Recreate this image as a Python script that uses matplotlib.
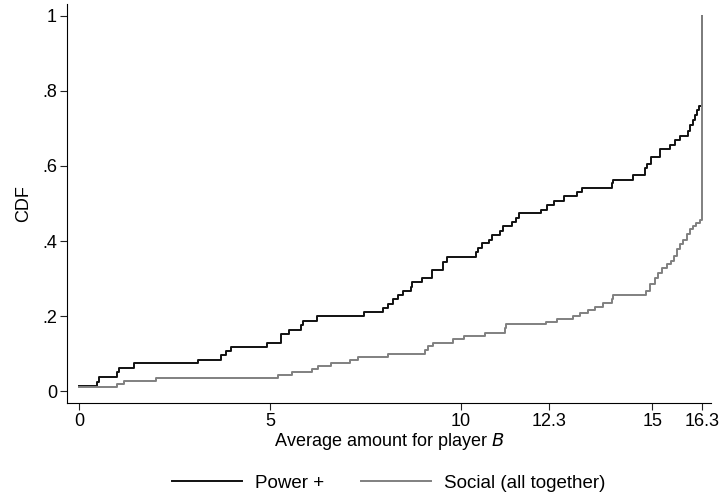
import matplotlib
matplotlib.use("Agg")
import matplotlib.pyplot as plt

plt.rcParams['font.family'] = ['Liberation Sans', 'DejaVu Sans']

# empirical CDF steps: amount where the CDF jumps, and the CDF value after the jump
power_x = [0.0, 0.48, 0.52, 1.00, 1.05, 1.44, 3.11, 3.72, 3.85, 3.98, 4.93, 5.28,
           5.50, 5.80, 5.85, 6.24, 7.46, 7.96, 8.09, 8.22, 8.34, 8.47, 8.69, 8.72,
           8.97, 9.23, 9.52, 9.63, 10.40, 10.45, 10.55, 10.74, 10.82, 11.02, 11.10,
           11.34, 11.43, 11.51, 12.09, 12.24, 12.44, 12.70, 13.04, 13.17, 13.94,
           13.98, 14.50, 14.81, 14.87, 14.98, 15.20, 15.46, 15.59, 15.72, 15.94,
           15.99, 16.06, 16.12, 16.18, 16.23, 16.3]
power_cdf = [0.014, 0.025, 0.038, 0.050, 0.061, 0.074, 0.084, 0.096, 0.107, 0.118,
             0.129, 0.152, 0.163, 0.175, 0.187, 0.199, 0.211, 0.221, 0.231, 0.245,
             0.255, 0.267, 0.278, 0.292, 0.302, 0.324, 0.345, 0.358, 0.371, 0.382,
             0.394, 0.404, 0.417, 0.426, 0.439, 0.450, 0.462, 0.475, 0.484, 0.497,
             0.508, 0.519, 0.530, 0.541, 0.555, 0.564, 0.577, 0.595, 0.604, 0.623,
             0.644, 0.655, 0.668, 0.679, 0.692, 0.710, 0.723, 0.737, 0.750, 0.761,
             1.0]

social_x = [0.0, 1.00, 1.19, 2.01, 5.21, 5.57, 6.09, 6.26, 6.59, 7.09, 7.31, 8.09,
            9.05, 9.14, 9.27, 9.79, 10.08, 10.62, 11.14, 11.17, 12.22, 12.50, 12.92,
            13.11, 13.33, 13.51, 13.72, 13.94, 13.98, 14.83, 14.94, 15.07, 15.16,
            15.25, 15.38, 15.49, 15.58, 15.64, 15.72, 15.81, 15.90, 15.98, 16.07,
            16.16, 16.24, 16.3]
social_cdf = [0.011, 0.020, 0.027, 0.035, 0.044, 0.052, 0.060, 0.067, 0.076, 0.083,
              0.092, 0.098, 0.110, 0.120, 0.129, 0.138, 0.147, 0.154, 0.169, 0.178,
              0.185, 0.193, 0.200, 0.209, 0.216, 0.225, 0.234, 0.245, 0.257, 0.267,
              0.285, 0.302, 0.316, 0.329, 0.338, 0.347, 0.360, 0.378, 0.391, 0.404,
              0.418, 0.431, 0.440, 0.449, 0.457, 1.0]

xticks = [0, 5, 10, 12.3, 15, 16.3]
xtick_labels = ['0', '5', '10', '12.3', '15', '16.3']
yticks = [0, 0.2, 0.4, 0.6, 0.8, 1.0]
ytick_labels = ['0', '.2', '.4', '.6', '.8', '1']

fig = plt.figure(figsize=(7.2, 4.95), dpi=100)
ax = fig.add_axes([0.0935, 0.1865, 0.894, 0.8055])

ax.step(power_x, power_cdf, where='post', color='#111111', lw=1.4, label='Power +')
ax.step(social_x, social_cdf, where='post', color='#808080', lw=1.4,
        label='Social (all together)')

ax.set_xlim(-0.306, 16.54)
ax.set_ylim(-0.031, 1.032)
ax.set_xticks(xticks)
ax.set_xticklabels(xtick_labels)
ax.set_yticks(yticks)
ax.set_yticklabels(ytick_labels)
ax.tick_params(labelsize=13, length=5, width=0.8, color='#222222', pad=2.5)
ax.spines['top'].set_visible(False)
ax.spines['right'].set_visible(False)
for s in ('left', 'bottom'):
    ax.spines[s].set_linewidth(0.8)

ax.set_xlabel('Average amount for player $\\it{B}$', fontsize=13, labelpad=1)
ax.set_ylabel('CDF', fontsize=13, labelpad=7)

# legend sits under the plot area, centred on the axes
fig.legend(loc='center', bbox_to_anchor=(0.540, 0.024), ncol=2, frameon=False,
           fontsize=13.5, handlelength=3.7, handletextpad=0.7, columnspacing=2.0,
           borderpad=0)

fig.savefig('out.png', dpi=100)
